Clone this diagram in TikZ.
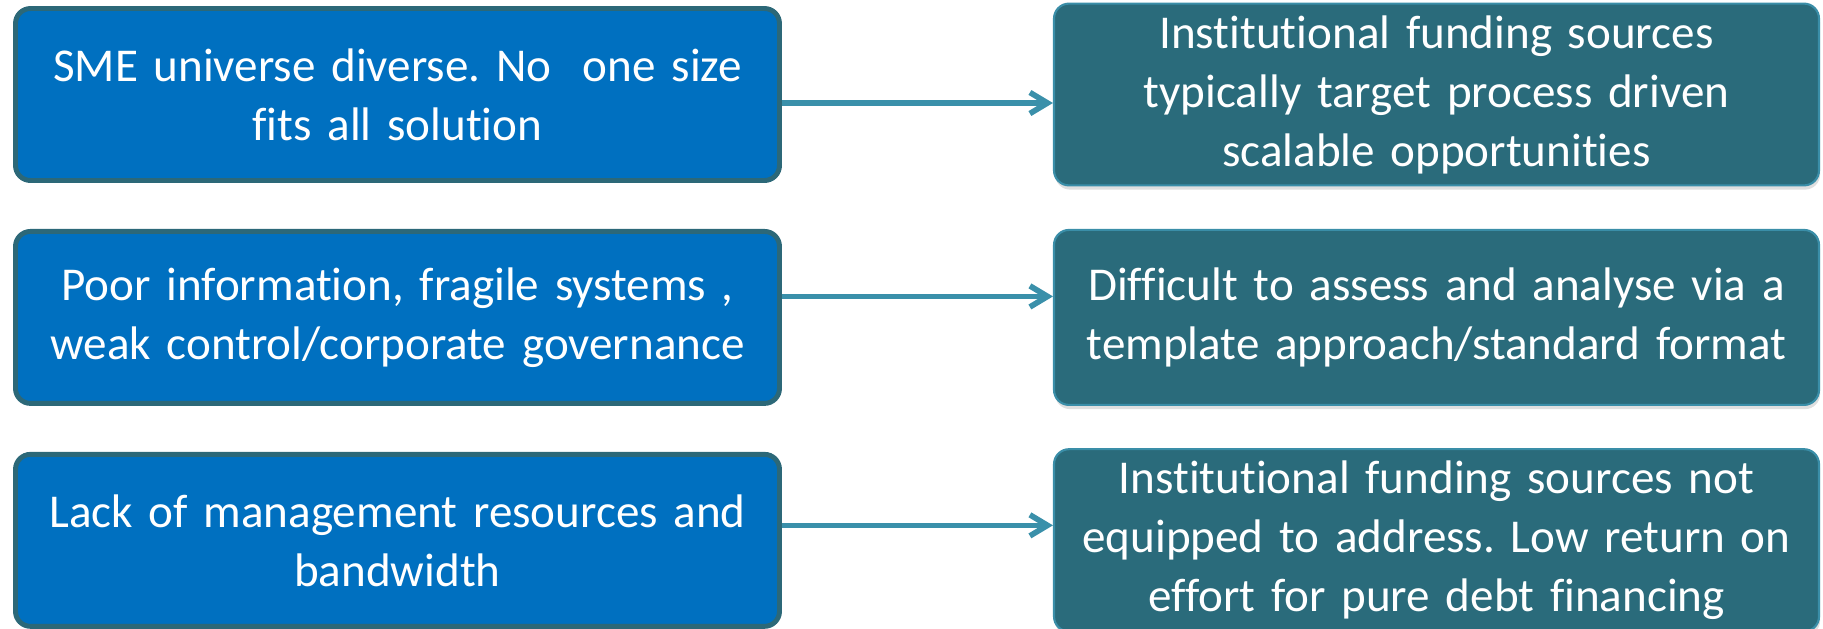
\documentclass[tikz,border=0pt]{standalone}
\usepackage{fontspec}
\setmainfont{Carlito}[Ligatures=NoCommon]
\frenchspacing
\usepackage{tikz}
\usetikzlibrary{arrows.meta, positioning, shadows}

\definecolor{issueblue}{HTML}{0070C0}
\definecolor{issueedge}{HTML}{2C6878}
\definecolor{effectteal}{HTML}{2A6B7B}
\definecolor{effectedge}{HTML}{3A8EA8}
\definecolor{linkteal}{HTML}{3A90AA}

\begin{document}
\begin{tikzpicture}[
    node distance=0.46cm and 2.71cm,
    issuebox/.style={rectangle, draw=issueedge, line width=1.4pt, fill=issueblue, rounded corners=0.15cm, minimum height=1.72cm, minimum width=7.64cm, text width=7.4cm, align=center, text=white, font=\fontsize{13.4}{16.8}\selectfont},
    effectbox/.style={rectangle, draw=effectedge, line width=0.6pt, fill=effectteal, rounded corners=0.15cm, minimum height=1.75cm, minimum width=7.65cm, text width=7.4cm, align=center, text=white, font=\fontsize{13.4}{16.8}\selectfont, drop shadow={shadow xshift=0.3pt, shadow yshift=-1.2pt, opacity=0.25}},
    link/.style={-{Straight Barb[length=5pt, width=6pt]}, line width=1.6pt, linkteal}
]
\useasboundingbox (0,0) rectangle (18.23,-6.29);

\node[issuebox] (l1) at (3.975,-0.945) {SME universe diverse. No~ one size \\ fits all solution};
\node[issuebox, below=of l1] (l2) {Poor information, fragile systems , \\ weak control/corporate governance};
\node[issuebox, below=of l2] (l3) {Lack of management resources and \\ bandwidth};

\node[effectbox, right=of l1] (r1) {Institutional funding sources \\ typically target process driven \\ scalable opportunities};
\node[effectbox, right=of l2] (r2) {Difficult to assess and analyse via a \\ template approach/standard format};
\node[effectbox, right=of l3] (r3) {Institutional funding sources not \\ equipped to address. Low return on \\ effort for pure debt financing};

\draw[link] ([yshift=-0.085cm]l1.east) -- ([yshift=-0.085cm]r1.west);
\draw[link] ([yshift=0.21cm]l2.east) -- ([yshift=0.21cm]r2.west);
\draw[link] ([yshift=0.15cm]l3.east) -- ([yshift=0.15cm]r3.west);

\end{tikzpicture}
\end{document}
